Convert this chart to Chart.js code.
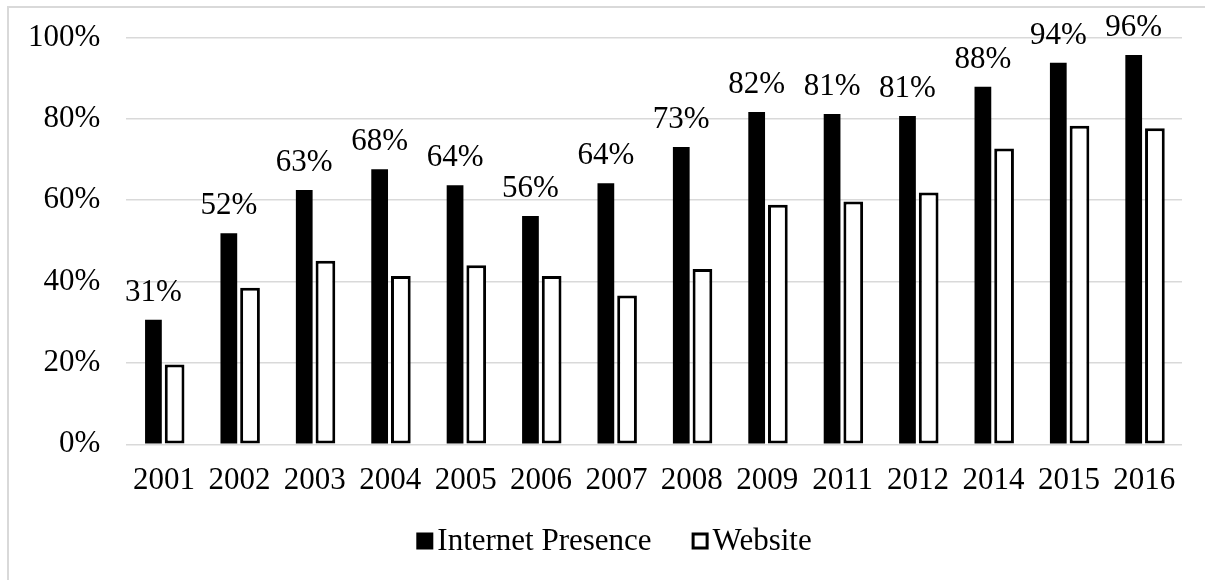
<!DOCTYPE html>
<html>
<head>
<meta charset="utf-8">
<script src="https://cdn.jsdelivr.net/npm/chart.js@4/dist/chart.umd.min.js"></script>
<style>
  html, body { margin: 0; padding: 0; background: #fff; overflow: hidden; }
  #frame { position: absolute; left: 7px; top: 6px; width: 1400px; height: 800px;
           border-left: 2px solid #d9d9d9; border-top: 2px solid #d9d9d9; }
  #wrap { position: absolute; left: 0; top: 0; width: 1205px; height: 580px; }
</style>
</head>
<body>
<div id="frame"></div>
<div id="wrap"><canvas id="c" width="1205" height="580"></canvas></div>
<script>
const categories = ['2001','2002','2003','2004','2005','2006','2007','2008','2009','2011','2012','2014','2015','2016'];
const internetPresence = [30.6, 51.9, 62.5, 67.6, 63.7, 56.1, 64.2, 73.1, 81.7, 81.2, 80.7, 87.9, 93.8, 95.7];
const website = [19.6, 38.5, 45.1, 41.4, 44.0, 41.4, 36.6, 43.1, 58.9, 59.7, 61.9, 72.7, 78.3, 77.7];
const yTicks = [0, 20, 40, 60, 80, 100];

const FONT = "'Liberation Serif', 'Times New Roman', serif";

const barLabels = {
  id: 'barLabels',
  afterDatasetsDraw(chart) {
    const ctx = chart.ctx;
    const meta = chart.getDatasetMeta(0);
    ctx.save();
    ctx.font = '31px ' + FONT;
    ctx.fillStyle = '#000';
    ctx.textAlign = 'center';
    ctx.textBaseline = 'alphabetic';
    meta.data.forEach((el, i) => {
      const v = chart.data.datasets[0].data[i];
      ctx.fillText(Math.round(v) + '%', el.x, el.y - 19);
    });
    ctx.restore();
  }
};

// Legend drawn from the datasets (label, colours)
const bottomLegend = {
  id: 'bottomLegend',
  afterDraw(chart) {
    const ctx = chart.ctx;
    const ds = chart.data.datasets;
    const box = 17, gapBoxText = 4, gapItems = 40;
    const centerX = 614, baseline = 549.5, boxTop = 532.5;
    ctx.save();
    ctx.font = '31px ' + FONT;
    ctx.textBaseline = 'alphabetic';
    ctx.textAlign = 'left';
    const widths = ds.map(d => ctx.measureText(d.label).width);
    let total = 0;
    widths.forEach((w, i) => { total += box + gapBoxText + w + (i < ds.length - 1 ? gapItems : 0); });
    let x = centerX - total / 2;
    ds.forEach((d, i) => {
      if (d.borderWidth) {
        ctx.fillStyle = d.backgroundColor;
        ctx.fillRect(x + 1.5, boxTop + 1.5, box - 3, box - 3);
        ctx.strokeStyle = d.borderColor;
        ctx.lineWidth = 3;
        ctx.strokeRect(x + 1.5, boxTop + 1.5, box - 3, box - 3);
      } else {
        ctx.fillStyle = d.backgroundColor;
        ctx.fillRect(x, boxTop, box, box);
      }
      ctx.fillStyle = '#000';
      ctx.fillText(d.label, x + box + gapBoxText, baseline);
      x += box + gapBoxText + widths[i] + gapItems;
    });
    ctx.restore();
  }
};

new Chart(document.getElementById('c'), {
  type: 'bar',
  data: {
    labels: categories,
    datasets: [
      {
        label: 'Internet Presence',
        data: internetPresence,
        backgroundColor: '#000',
        borderWidth: 0,
        barPercentage: 0.79,
        categoryPercentage: 0.562
      },
      {
        label: 'Website',
        data: website,
        backgroundColor: '#fff',
        borderColor: '#000',
        borderWidth: 3,
        borderSkipped: false,
        barPercentage: 0.93,
        categoryPercentage: 0.562
      }
    ]
  },
  options: {
    responsive: false,
    animation: false,
    layout: { padding: { left: 2, right: 23, top: 37.5, bottom: 71.5 } },
    plugins: {
      tooltip: { enabled: false },
      legend: { display: false }
    },
    scales: {
      x: {
        grid: { display: false },
        border: { display: false },
        ticks: { font: { family: FONT, size: 31 }, color: '#000', padding: 9.5, maxRotation: 0, autoSkip: false }
      },
      y: {
        min: 0, max: 100,
        afterBuildTicks(axis) { axis.ticks = yTicks.map(v => ({ value: v })); },
        afterFit(axis) { axis.paddingTop = 0; axis.paddingBottom = 0; },
        grid: { color: '#d9d9d9', lineWidth: 1.5, drawTicks: false },
        border: { display: false },
        ticks: {
          font: { family: FONT, size: 31 }, color: '#000', padding: 26,
          callback: v => v + '%'
        }
      }
    }
  },
  plugins: [barLabels, bottomLegend]
});
</script>
</body>
</html>
